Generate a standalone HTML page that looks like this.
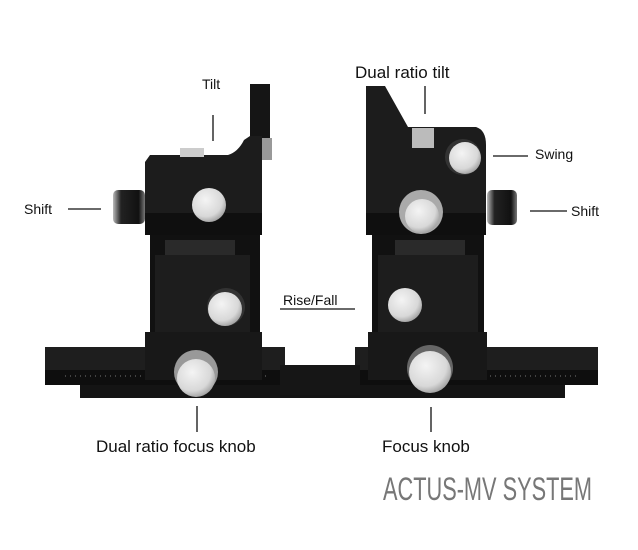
<!DOCTYPE html>
<html><head><style>
html,body{margin:0;padding:0;background:#fff;}
svg{display:block;}
text{font-family:"Liberation Sans",sans-serif;fill:#111;}
</style></head><body>
<svg width="638" height="550" viewBox="0 0 638 550" xmlns="http://www.w3.org/2000/svg">
<defs>
<radialGradient id="kn" cx="0.4" cy="0.35" r="0.7">
<stop offset="0" stop-color="#f4f4f4"/><stop offset="0.7" stop-color="#d8d8d8"/><stop offset="1" stop-color="#9a9a9a"/>
</radialGradient>
<linearGradient id="sk" x1="0" x2="1">
<stop offset="0" stop-color="#bbb"/><stop offset="0.25" stop-color="#222"/><stop offset="0.8" stop-color="#111"/><stop offset="1" stop-color="#777"/>
</linearGradient>
</defs>

<!-- rail -->
<rect x="80" y="380" width="485" height="18" fill="#141414"/>
<rect x="45" y="347" width="240" height="24" fill="#1e1e1e"/>
<rect x="45" y="370" width="240" height="15" fill="#0e0e0e"/>
<rect x="355" y="347" width="243" height="24" fill="#1e1e1e"/>
<rect x="355" y="370" width="243" height="15" fill="#0e0e0e"/>
<rect x="280" y="365" width="80" height="30" fill="#161616"/>
<line x1="65" y1="376" x2="270" y2="376" stroke="#777" stroke-width="1" stroke-dasharray="1 4"/>
<line x1="370" y1="376" x2="580" y2="376" stroke="#777" stroke-width="1" stroke-dasharray="1 4"/>

<!-- LEFT UNIT -->
<rect x="250" y="84" width="20" height="62" fill="#151515"/>
<rect x="262" y="138" width="10" height="22" fill="#999"/>
<path d="M150,155 L228,155 Q238,152 244,140 L250,136 L262,136 L262,215 L145,215 L145,162 Z" fill="#1c1c1c"/>
<rect x="180" y="148" width="24" height="9" fill="#ccc"/>
<rect x="145" y="213" width="117" height="22" fill="#0f0f0f"/>
<rect x="150" y="235" width="110" height="100" fill="#111"/>
<rect x="165" y="240" width="70" height="15" fill="#2a2a2a"/>
<rect x="155" y="255" width="95" height="78" fill="#1d1d1d"/>
<rect x="145" y="332" width="117" height="48" fill="#181818"/>
<rect x="113" y="190" width="32" height="34" rx="5" fill="url(#sk)"/>
<circle cx="209" cy="205" r="17" fill="url(#kn)"/>
<circle cx="226" cy="307" r="19" fill="#333"/>
<circle cx="225" cy="309" r="17" fill="url(#kn)"/>
<circle cx="196" cy="372" r="22" fill="#999"/>
<circle cx="196" cy="378" r="19" fill="url(#kn)"/>

<!-- RIGHT UNIT -->
<path d="M366,86 L385,86 L408,127 L476,127 Q486,130 486,145 L486,215 L366,215 Z" fill="#1c1c1c"/>
<rect x="412" y="128" width="22" height="20" fill="#bbb"/>
<rect x="366" y="213" width="120" height="22" fill="#0f0f0f"/>
<rect x="372" y="235" width="112" height="100" fill="#111"/>
<rect x="395" y="240" width="70" height="15" fill="#2a2a2a"/>
<rect x="378" y="255" width="100" height="78" fill="#1d1d1d"/>
<rect x="368" y="332" width="119" height="48" fill="#181818"/>
<rect x="487" y="190" width="30" height="35" rx="5" fill="url(#sk)"/>
<circle cx="463" cy="157" r="18" fill="#333"/>
<circle cx="465" cy="158" r="16" fill="url(#kn)"/>
<circle cx="421" cy="212" r="22" fill="#aaa"/>
<circle cx="422" cy="216" r="17" fill="url(#kn)"/>
<circle cx="405" cy="305" r="17" fill="url(#kn)"/>
<circle cx="430" cy="368" r="23" fill="#666"/>
<circle cx="430" cy="372" r="21" fill="url(#kn)"/>

<!-- labels & leaders -->
<g stroke="#111" stroke-width="1.3">
<line x1="213" y1="115" x2="213" y2="141"/>
<line x1="425" y1="86" x2="425" y2="114"/>
<line x1="493" y1="156" x2="528" y2="156"/>
<line x1="530" y1="211" x2="567" y2="211"/>
<line x1="68" y1="209" x2="101" y2="209"/>
<line x1="280" y1="309" x2="355" y2="309"/>
<line x1="197" y1="406" x2="197" y2="432"/>
<line x1="431" y1="407" x2="431" y2="432"/>
</g>
<text x="202" y="89" font-size="14">Tilt</text>
<text x="355" y="78" font-size="17">Dual ratio tilt</text>
<text x="535" y="159" font-size="14">Swing</text>
<text x="571" y="216" font-size="14">Shift</text>
<text x="24" y="214" font-size="14">Shift</text>
<text x="283" y="305" font-size="14">Rise/Fall</text>
<text x="96" y="452" font-size="17">Dual ratio focus knob</text>
<text x="382" y="452" font-size="17">Focus knob</text>
<text x="383" y="500" font-size="32" textLength="209" lengthAdjust="spacingAndGlyphs" style="fill:#777">ACTUS-MV SYSTEM</text>
</svg>
</body></html>
